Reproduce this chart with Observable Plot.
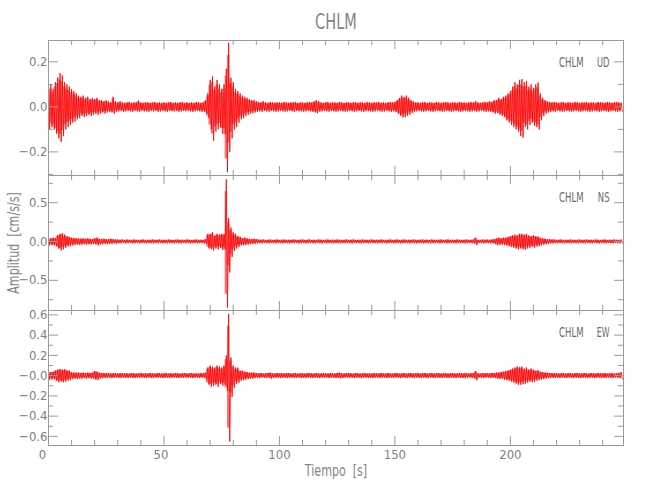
<!DOCTYPE html>
<html><head><meta charset="utf-8">
<script src="https://cdn.jsdelivr.net/npm/d3@7"></script>
<script src="https://cdn.jsdelivr.net/npm/@observablehq/plot@0.6"></script>
<style>
body{margin:0;background:#fff;}
#chart{position:relative;width:650px;height:500px;background:#fff;font-family:"Liberation Sans Narrow","DejaVu Sans Condensed",sans-serif;color:#808080;overflow:hidden;}
#chart svg{position:absolute;left:0;}
.lbl{position:absolute;white-space:pre;line-height:1;color:#858585;}
</style></head><body><div id="chart"></div>
<script>
const station = "CHLM";
const components = ["UD", "NS", "EW"];
const xLabel = "Tiempo  [s]";
const yLabel = "Amplitud  [cm/s/s]";
const xDomain = [0, 249];
const xTicksMajor = [0, 50, 100, 150, 200];
const xTicksMinor = [10,20,30,40,60,70,80,90,110,120,130,140,160,170,180,190,210,220,230,240];

// y ranges and ticks per component
const udDomain = [-0.305, 0.295];
const nsDomain = [-0.889, 0.851];
const ewDomain = [-0.69, 0.643];
const udTicksMajor = [-0.2, 0, 0.2];
const udTickLabels = ["\u22120.2", "0.0", "0.2"];
const udTicksMinor = [-0.3, -0.1, 0.1];
const nsTicksMajor = [-0.5, 0, 0.5];
const nsTickLabels = ["\u22120.5", "0.0", "0.5"];
const nsTicksMinor = [-0.75, -0.25, 0.25, 0.75];
const ewTicksMajor = [-0.6, -0.4, -0.2, 0, 0.2, 0.4, 0.6];
const ewTickLabels = ["\u22120.6", "\u22120.4", "\u22120.2", "\u22120.0", "0.2", "0.4", "0.6"];
const ewTicksMinor = [-0.5, -0.3, -0.1, 0.1, 0.3, 0.5];

// per-second upper / lower extents of each trace (t = 0 .. 248 s)
const udHi = [
.09,.10,.08,.11,.13,.15,.14,.11,.10,.09,
.08,.07,.06,.05,.045,.05,.04,.045,.035,.04,
.035,.04,.03,.03,.025,.03,.025,.02,.045,.025,
.02,.025,.02,.018,.02,.022,.018,.02,.02,.028,
.02,.018,.02,.02,.018,.02,.022,.018,.02,.017,
.02,.018,.02,.022,.018,.02,.018,.02,.022,.018,
.02,.018,.02,.018,.022,.02,.018,.02,.03,.06,
.12,.135,.09,.12,.10,.08,.10,.17,.285,.13,
.11,.08,.07,.06,.05,.045,.04,.035,.03,.03,
.025,.022,.02,.025,.02,.018,.022,.02,.018,.02,
.02,.018,.022,.02,.018,.02,.02,.022,.018,.02,
.02,.018,.02,.022,.02,.025,.03,.025,.02,.018,
.02,.022,.018,.02,.02,.018,.022,.02,.018,.02,
.02,.018,.02,.022,.018,.02,.02,.018,.022,.02,
.018,.02,.02,.022,.018,.02,.018,.02,.022,.02,
.022,.03,.04,.05,.045,.05,.04,.03,.025,.02,
.02,.018,.02,.022,.018,.02,.02,.018,.022,.02,
.018,.02,.022,.02,.018,.02,.02,.018,.022,.02,
.02,.018,.02,.022,.02,.025,.02,.018,.02,.022,
.02,.025,.022,.03,.03,.04,.035,.045,.05,.06,
.07,.09,.11,.10,.12,.123,.11,.115,.09,.10,
.085,.10,.108,.06,.04,.03,.025,.022,.02,.022,
.02,.018,.02,.022,.018,.02,.02,.018,.022,.02,
.018,.02,.02,.022,.018,.02,.02,.018,.022,.02,
.02,.018,.022,.02,.018,.02,.022,.02,.018];
const udLo = [
-.10,-.09,-.10,-.12,-.14,-.155,-.13,-.10,-.09,-.08,
-.07,-.065,-.055,-.05,-.04,-.045,-.04,-.035,-.04,-.035,
-.03,-.035,-.03,-.025,-.03,-.025,-.022,-.025,-.03,-.022,
-.02,-.018,-.022,-.02,-.018,-.02,-.022,-.018,-.02,-.022,
-.018,-.02,-.02,-.022,-.018,-.02,-.018,-.022,-.02,-.018,
-.02,-.022,-.018,-.02,-.02,-.018,-.022,-.02,-.018,-.02,
-.018,-.02,-.022,-.02,-.018,-.02,-.022,-.02,-.03,-.05,
-.10,-.15,-.11,-.10,-.09,-.12,-.12,-.29,-.20,-.14,
-.10,-.09,-.07,-.055,-.05,-.04,-.035,-.03,-.028,-.025,
-.022,-.02,-.022,-.018,-.02,-.022,-.018,-.02,-.022,-.02,
-.018,-.02,-.022,-.02,-.018,-.02,-.022,-.018,-.02,-.02,
-.022,-.02,-.018,-.02,-.022,-.025,-.028,-.022,-.02,-.018,
-.02,-.022,-.018,-.02,-.022,-.02,-.018,-.02,-.022,-.02,
-.018,-.02,-.022,-.02,-.018,-.02,-.022,-.02,-.018,-.02,
-.022,-.02,-.018,-.02,-.022,-.02,-.018,-.02,-.022,-.02,
-.022,-.03,-.04,-.047,-.045,-.04,-.035,-.028,-.022,-.02,
-.018,-.02,-.022,-.02,-.018,-.02,-.022,-.02,-.018,-.02,
-.022,-.02,-.018,-.02,-.022,-.02,-.018,-.02,-.022,-.02,
-.018,-.02,-.022,-.02,-.018,-.022,-.02,-.018,-.02,-.022,
-.02,-.022,-.025,-.03,-.028,-.035,-.04,-.045,-.06,-.07,
-.08,-.09,-.10,-.11,-.13,-.136,-.09,-.10,-.08,-.07,
-.085,-.09,-.10,-.06,-.04,-.03,-.025,-.022,-.02,-.022,
-.018,-.02,-.022,-.02,-.018,-.02,-.022,-.02,-.018,-.02,
-.022,-.02,-.018,-.02,-.022,-.02,-.018,-.02,-.022,-.02,
-.018,-.02,-.022,-.02,-.018,-.02,-.022,-.02,-.02];

const nsHi = [
.05,.04,.05,.045,.08,.10,.107,.09,.07,.06,
.05,.045,.04,.04,.035,.04,.035,.04,.035,.03,
.04,.05,.035,.03,.035,.03,.03,.035,.03,.025,
.025,.022,.025,.02,.025,.022,.02,.025,.022,.02,
.022,.025,.02,.022,.02,.025,.022,.02,.025,.02,
.022,.02,.025,.022,.02,.022,.025,.02,.022,.02,
.025,.022,.02,.022,.025,.02,.022,.02,.03,.10,
.10,.12,.08,.10,.09,.10,.10,.80,.30,.18,
.12,.10,.07,.06,.045,.05,.04,.035,.03,.035,
.03,.025,.022,.025,.02,.022,.025,.02,.022,.025,
.02,.022,.025,.02,.022,.02,.025,.022,.02,.022,
.025,.02,.022,.025,.02,.022,.02,.025,.022,.02,
.022,.025,.02,.022,.02,.025,.022,.02,.022,.025,
.02,.022,.025,.02,.022,.02,.025,.022,.02,.022,
.025,.02,.022,.02,.025,.022,.02,.022,.025,.02,
.022,.025,.02,.022,.025,.02,.022,.02,.025,.022,
.02,.022,.025,.02,.022,.02,.025,.022,.02,.022,
.025,.02,.022,.025,.02,.022,.02,.025,.022,.02,
.022,.025,.02,.022,.025,.05,.022,.02,.025,.022,
.025,.022,.025,.03,.04,.05,.04,.05,.05,.06,
.07,.08,.09,.08,.10,.10,.09,.10,.08,.07,
.08,.07,.065,.05,.04,.035,.03,.03,.025,.025,
.02,.022,.025,.02,.022,.02,.025,.022,.02,.022,
.025,.02,.022,.025,.02,.022,.02,.025,.022,.02,
.022,.025,.02,.022,.02,.025,.022,.02,.025];
const nsLo = [
-.05,-.045,-.05,-.06,-.09,-.116,-.10,-.08,-.065,-.06,
-.05,-.045,-.04,-.045,-.04,-.035,-.04,-.035,-.04,-.03,
-.035,-.05,-.04,-.035,-.03,-.035,-.03,-.03,-.025,-.03,
-.022,-.025,-.02,-.025,-.022,-.02,-.025,-.022,-.02,-.025,
-.02,-.022,-.025,-.02,-.022,-.025,-.02,-.022,-.02,-.025,
-.022,-.025,-.02,-.022,-.025,-.02,-.022,-.025,-.02,-.022,
-.02,-.025,-.022,-.02,-.025,-.022,-.02,-.025,-.03,-.09,
-.10,-.116,-.09,-.10,-.08,-.11,-.10,-.85,-.40,-.20,
-.12,-.09,-.07,-.05,-.05,-.045,-.04,-.035,-.03,-.03,
-.025,-.022,-.025,-.02,-.022,-.025,-.02,-.022,-.025,-.02,
-.022,-.025,-.02,-.022,-.025,-.02,-.022,-.02,-.025,-.022,
-.02,-.025,-.022,-.02,-.022,-.025,-.02,-.022,-.025,-.02,
-.025,-.02,-.022,-.025,-.02,-.022,-.025,-.02,-.022,-.02,
-.022,-.025,-.02,-.022,-.02,-.025,-.022,-.02,-.025,-.022,
-.02,-.022,-.025,-.02,-.022,-.02,-.025,-.022,-.02,-.025,
-.022,-.02,-.025,-.022,-.02,-.022,-.025,-.02,-.022,-.025,
-.02,-.022,-.025,-.02,-.022,-.025,-.02,-.022,-.02,-.025,
-.022,-.02,-.025,-.022,-.02,-.022,-.025,-.02,-.022,-.02,
-.025,-.022,-.02,-.022,-.025,-.045,-.02,-.022,-.025,-.02,
-.022,-.025,-.022,-.03,-.05,-.045,-.04,-.045,-.05,-.06,
-.07,-.08,-.09,-.10,-.09,-.10,-.107,-.09,-.08,-.07,
-.08,-.065,-.06,-.05,-.04,-.035,-.03,-.025,-.025,-.022,
-.025,-.02,-.022,-.025,-.02,-.022,-.025,-.02,-.022,-.025,
-.02,-.022,-.025,-.02,-.022,-.025,-.02,-.022,-.025,-.02,
-.022,-.025,-.02,-.022,-.025,-.02,-.022,-.025,-.02];

const ewHi = [
.04,.035,.04,.05,.06,.066,.06,.065,.055,.05,
.035,.03,.03,.03,.025,.03,.025,.03,.025,.03,
.045,.04,.03,.025,.025,.022,.025,.02,.022,.025,
.02,.022,.025,.02,.022,.02,.025,.022,.02,.022,
.025,.02,.022,.02,.025,.022,.02,.022,.025,.02,
.022,.025,.02,.022,.02,.025,.022,.02,.022,.025,
.02,.022,.025,.02,.022,.02,.025,.022,.03,.08,
.10,.09,.08,.10,.09,.08,.10,.20,.61,.18,
.10,.08,.08,.05,.05,.04,.035,.03,.03,.03,
.025,.022,.025,.02,.022,.025,.03,.022,.02,.025,
.022,.025,.02,.022,.025,.02,.022,.025,.02,.022,
.025,.02,.022,.025,.022,.02,.025,.022,.02,.025,
.022,.02,.025,.022,.02,.025,.03,.022,.02,.022,
.025,.022,.02,.025,.022,.02,.022,.025,.02,.022,
.02,.025,.022,.02,.025,.022,.02,.025,.022,.02,
.022,.025,.02,.022,.025,.02,.022,.025,.02,.022,
.025,.02,.022,.025,.02,.022,.025,.02,.022,.025,
.02,.022,.025,.02,.022,.025,.02,.022,.025,.022,
.022,.025,.02,.022,.025,.045,.022,.02,.025,.022,
.025,.022,.025,.025,.03,.03,.035,.04,.045,.05,
.06,.07,.08,.09,.085,.09,.07,.08,.06,.07,
.06,.05,.055,.04,.035,.03,.03,.025,.025,.022,
.025,.02,.022,.025,.02,.022,.025,.02,.022,.025,
.022,.02,.025,.022,.02,.025,.022,.02,.025,.022,
.022,.025,.02,.022,.025,.02,.022,.025,.035];
const ewLo = [
-.04,-.04,-.035,-.05,-.065,-.06,-.066,-.06,-.05,-.045,
-.035,-.03,-.035,-.03,-.03,-.025,-.03,-.025,-.03,-.03,
-.04,-.045,-.03,-.025,-.022,-.025,-.02,-.025,-.022,-.02,
-.022,-.025,-.02,-.022,-.025,-.02,-.022,-.025,-.02,-.022,
-.02,-.022,-.025,-.02,-.022,-.025,-.02,-.022,-.02,-.025,
-.022,-.02,-.025,-.022,-.02,-.022,-.025,-.02,-.022,-.02,
-.022,-.02,-.025,-.022,-.02,-.025,-.022,-.02,-.04,-.09,
-.11,-.10,-.09,-.11,-.08,-.10,-.09,-.15,-.65,-.21,
-.12,-.08,-.07,-.05,-.045,-.04,-.035,-.03,-.03,-.025,
-.022,-.025,-.02,-.022,-.025,-.02,-.03,-.025,-.022,-.02,
-.025,-.022,-.02,-.025,-.022,-.02,-.025,-.022,-.02,-.025,
-.022,-.025,-.02,-.022,-.025,-.02,-.022,-.025,-.02,-.022,
-.02,-.025,-.022,-.02,-.025,-.022,-.028,-.025,-.022,-.02,
-.022,-.02,-.025,-.022,-.02,-.025,-.022,-.02,-.025,-.022,
-.025,-.022,-.02,-.025,-.022,-.02,-.025,-.022,-.02,-.025,
-.02,-.022,-.025,-.02,-.022,-.025,-.02,-.022,-.025,-.02,
-.022,-.025,-.02,-.022,-.025,-.02,-.022,-.025,-.02,-.022,
-.025,-.02,-.022,-.025,-.02,-.022,-.025,-.02,-.022,-.025,
-.025,-.022,-.02,-.022,-.025,-.045,-.02,-.022,-.025,-.02,
-.022,-.025,-.022,-.025,-.03,-.035,-.03,-.04,-.045,-.05,
-.06,-.07,-.08,-.09,-.09,-.085,-.08,-.07,-.06,-.065,
-.06,-.05,-.045,-.04,-.035,-.03,-.025,-.025,-.022,-.025,
-.022,-.025,-.02,-.022,-.025,-.02,-.022,-.025,-.02,-.022,
-.025,-.022,-.02,-.025,-.022,-.02,-.025,-.022,-.02,-.025,
-.022,-.025,-.02,-.022,-.025,-.02,-.022,-.025,-.035];

const panels = [
  {comp: components[0], hi: udHi, lo: udLo, domain: udDomain, major: udTicksMajor, labels: udTickLabels, minor: udTicksMinor},
  {comp: components[1], hi: nsHi, lo: nsLo, domain: nsDomain, major: nsTicksMajor, labels: nsTickLabels, minor: nsTicksMinor},
  {comp: components[2], hi: ewHi, lo: ewLo, domain: ewDomain, major: ewTicksMajor, labels: ewTickLabels, minor: ewTicksMinor}
];

const FONT = '"Liberation Sans Narrow","DejaVu Sans Condensed",sans-serif';
const AX = "#9a9a9a";
const W = 650, ML = 48, MR = 27, PH = 135, PW = W - ML - MR;
const panelTops = [40, 175, 310];
const textWidths = {"CHLM": 24.5, "UD": 12.5, "NS": 11.7, "EW": 12.7};
const chart = document.getElementById("chart");

panels.forEach((p, k) => {
  const last = k === panels.length - 1;
  const MT = 20, MB = last ? 30 : 20;
  const pts = [];
  p.hi.forEach((h, i) => { pts.push({t: i, v: h}); pts.push({t: i + 0.5, v: p.lo[i]}); });
  const band = p.hi.map((h, i) => ({t: i, hi: h * 0.8, lo: p.lo[i] * 0.8}));
  const labelOf = new Map(p.major.map((v, i) => [v, p.labels[i]]));
  const marks = [
    Plot.areaY(band, {x: "t", y1: "lo", y2: "hi", fill: "#ff0000", fillOpacity: 0.55, curve: "step", clip: true}),
    Plot.line(pts, {x: "t", y: "v", stroke: "#ff0000", strokeWidth: 0.9, strokeOpacity: 0.9, clip: true}),
    Plot.frame({stroke: AX}),
    Plot.tickX(xTicksMajor, {x: d => d, insetTop: PH - 9, stroke: AX}),
    Plot.tickX(xTicksMinor, {x: d => d, insetTop: PH - 5, stroke: AX}),
    Plot.tickX(xTicksMajor, {x: d => d, insetBottom: PH - 9, stroke: AX}),
    Plot.tickX(xTicksMinor, {x: d => d, insetBottom: PH - 5, stroke: AX}),
    Plot.tickY(p.major, {y: d => d, insetRight: PW - 10, stroke: AX}),
    Plot.tickY(p.minor, {y: d => d, insetRight: PW - 5, stroke: AX}),
    Plot.tickY(p.major, {y: d => d, insetLeft: PW - 9, stroke: AX}),
    Plot.tickY(p.minor, {y: d => d, insetLeft: PW - 5, stroke: AX}),
    Plot.axisY(p.major, {tickSize: 0, tickPadding: 1, tickFormat: d => labelOf.get(d), label: null}),
    Plot.text([station], {frameAnchor: "top-right", dx: -40, dy: 26, lineAnchor: "bottom", textAnchor: "end", fontSize: 14, fill: "#6a6a6a"}),
    Plot.text([p.comp], {frameAnchor: "top-right", dx: -14, dy: 26, lineAnchor: "bottom", textAnchor: "end", fontSize: 14, fill: "#6a6a6a"})
  ];
  if (last) {
    marks.push(Plot.axisX([xTicksMajor[0]], {anchor: "bottom", tickSize: 0, tickPadding: 4, dx: -6, label: null}));
    marks.push(Plot.axisX([xTicksMajor[1]], {anchor: "bottom", tickSize: 0, tickPadding: 4, dx: -3, label: null}));
    marks.push(Plot.axisX(xTicksMajor.slice(2), {anchor: "bottom", tickSize: 0, tickPadding: 4, label: null}));
  }
  const svg = Plot.plot({
    width: W, height: PH + MT + MB,
    marginLeft: ML, marginRight: MR, marginTop: MT, marginBottom: MB,
    x: {domain: xDomain, axis: last ? undefined : null, label: null},
    y: {domain: p.domain, label: null},
    style: {background: "transparent", overflow: "visible", fontFamily: FONT, fontSize: "13px", color: "#808080"},
    marks
  });
  svg.style.top = (panelTops[k] - MT) + "px";
  d3.select(svg).selectAll('g[aria-label="text"] text').each(function () {
    const w = textWidths[this.textContent];
    if (w) { this.setAttribute("textLength", w); this.setAttribute("lengthAdjust", "spacingAndGlyphs"); }
  });
  chart.appendChild(svg);
});

function addLabel(text, css) {
  const d = document.createElement("div");
  d.className = "lbl";
  d.textContent = text;
  Object.assign(d.style, css);
  chart.appendChild(d);
}
addLabel(station, {left: "335.5px", top: "12px", fontSize: "21px", transform: "translateX(-50%) scaleX(0.77)"});
addLabel(xLabel, {left: "336px", top: "464px", fontSize: "15px", transform: "translateX(-50%) scaleX(0.82)"});
addLabel(yLabel, {left: "14px", top: "243px", fontSize: "15px", transform: "translate(-50%,-50%) rotate(-90deg) scaleX(0.82)"});
</script>
</body></html>
